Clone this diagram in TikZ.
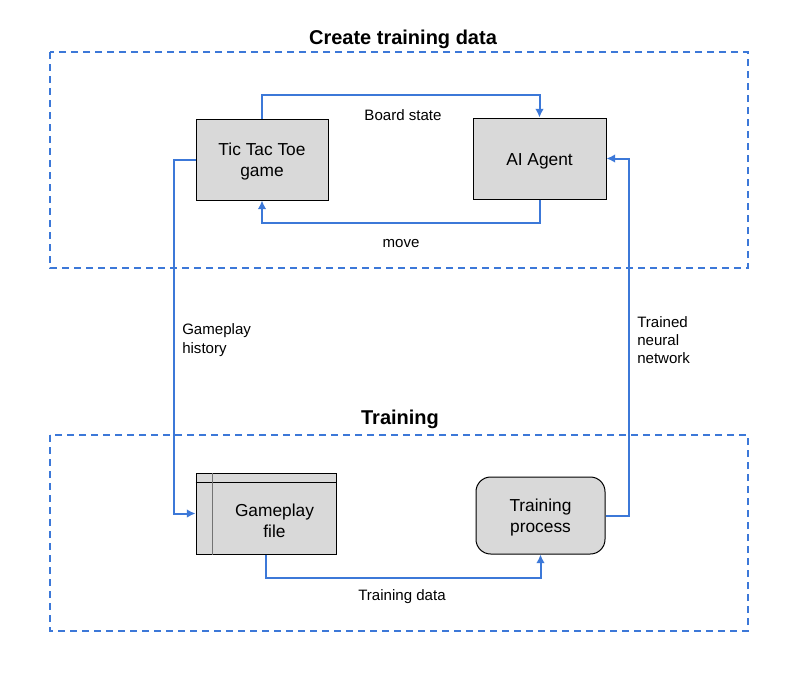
\documentclass[tikz,border=0pt]{standalone}
\usepackage{fontspec}
\setmainfont{Liberation Sans}
\usetikzlibrary{arrows.meta,positioning,calc}
\definecolor{gblue}{HTML}{3C78D8}
\definecolor{gfill}{HTML}{D9D9D9}
\tikzset{
  box/.style={draw=black, line width=0.75pt, fill=gfill, inner sep=0pt},
  boxtxt/.style={inner sep=0pt, align=center, font=\fontsize{13}{15.75}\selectfont},
  group/.style={draw=gblue, line width=1.4pt, dash pattern=on 5.2pt off 3.8pt},
  conn/.style={draw=gblue, line width=1.5pt, -{Latex[length=6.5pt,width=6.5pt]}},
  lbl/.style={font=\fontsize{11.3}{14.2}\selectfont, inner sep=0pt, align=left},
  title/.style={font=\bfseries\fontsize{15}{18}\selectfont, inner sep=0pt}
}
\begin{document}
\begin{tikzpicture}[x=0.75pt,y=-0.75pt]
\useasboundingbox (0,0) rectangle (800,683);
% group frames
\draw[group] (50,52) rectangle (748,268);
\draw[group] (50,435) rectangle (748,631);
\node[title] (t1) at (403,39) {Create training data};
\node[title] (t2) at (400,419) {Training};
% nodes
\node[box, minimum width=132*0.75pt, minimum height=81*0.75pt] (ttt) at (262,159.5) {};
\node[boxtxt] (tttt) at (262,161.5) {Tic Tac Toe\\game};
\node[box, minimum width=133*0.75pt, minimum height=81*0.75pt] (ai) at (539.5,158.5) {};
\node[boxtxt] (ait) at (539.5,161) {AI Agent};
\node[box, minimum width=140*0.75pt, minimum height=81*0.75pt] (gf) at (266,513.5) {};
\draw[black, line width=0.75pt] ($(gf.north west)+(0,10)$) -- ($(gf.north east)+(0,10)$);
\draw[black!55, line width=1pt] ($(gf.north west)+(17,0)$) -- ($(gf.south west)+(17,0)$);
\node[boxtxt] (gft) at ($(gf.center)+(8.5,7)$) {Gameplay\\file};
\node[box, rounded corners=11pt, minimum width=129*0.75pt, minimum height=77*0.75pt] (tp) at (540.5,515.5) {};
\node[boxtxt] (tpt) at (540.5,518) {Training\\process};
% connectors
\draw[conn] (ttt.north) -- ++(0,-24) -| (ai.north);
\draw[conn] (ai.south) -- ++(0,23) -| (ttt.south);
\draw[conn] (ttt.west) -- ++(-22,0) |- (gf.west);
\draw[conn] (gf.south) -- ++(0,23) -| (tp.south);
\draw[conn] (tp.east) -- ++(23,0) |- (ai.east);
% labels
\node[lbl] (lbs) at (403,115) {Board state};
\node[lbl] (lmv) at (401,244) {move};
\node[lbl, anchor=north west] (lgh) at (182,323.5) {Gameplay\\history};
\node[lbl, anchor=north west, font=\fontsize{11.3}{13.6}\selectfont] (ltn) at (637,316) {Trained\\neural\\network};
\node[lbl] (ltd) at (402,597) {Training data};
\end{tikzpicture}
\end{document}
